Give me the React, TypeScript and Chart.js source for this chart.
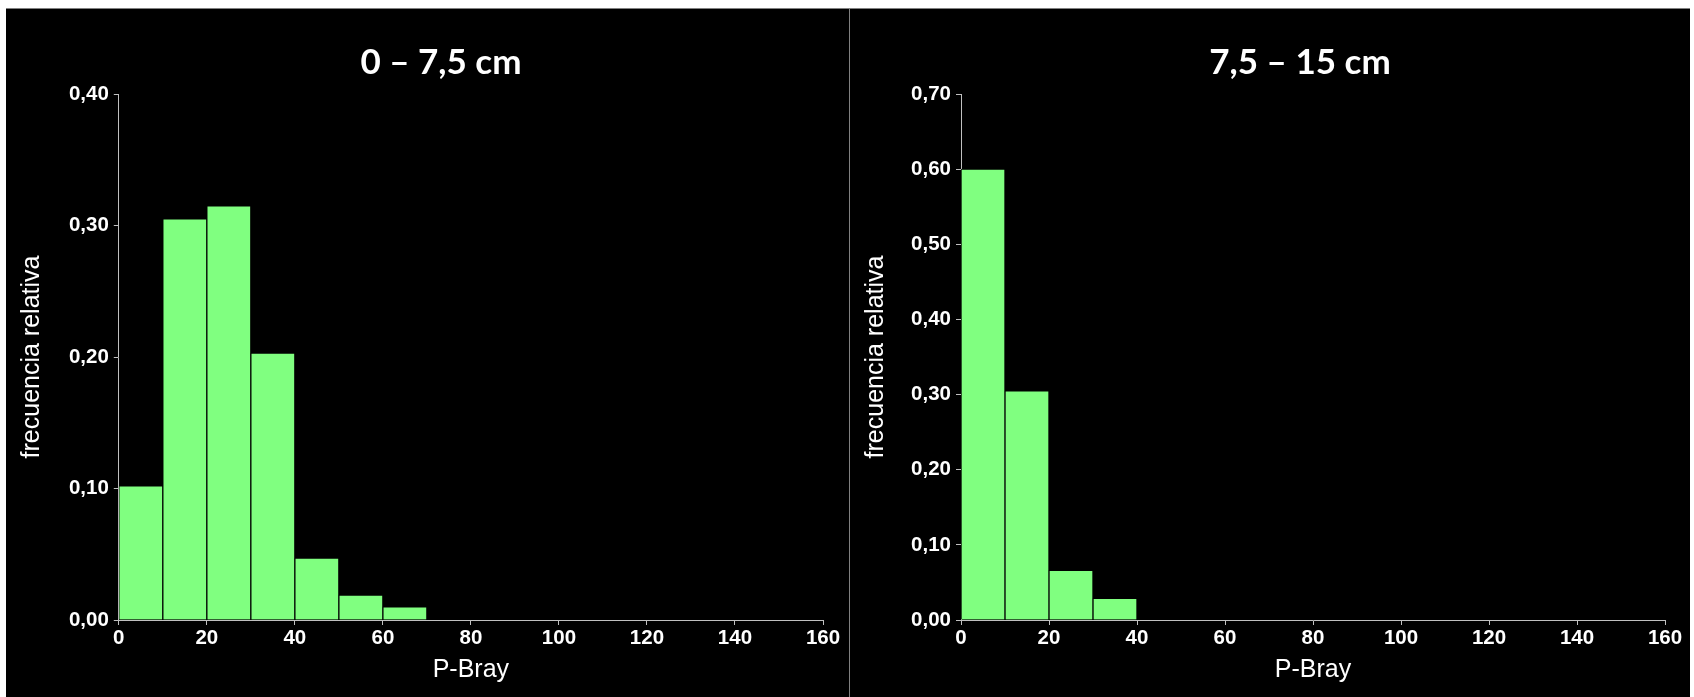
import React, { useEffect, useRef } from "react";
import { Chart, registerables } from "chart.js";

Chart.register(...registerables);

// ---- data ----
const binWidth = 10;
const binStartsTop = [0, 10, 20, 30, 40, 50, 60];
const freqTop = [0.102, 0.305, 0.315, 0.203, 0.047, 0.019, 0.01];
const binStartsDeep = [0, 10, 20, 30];
const freqDeep = [0.6, 0.305, 0.066, 0.029];
const xMin = 0;
const xMax = 160;
const xStep = 20;
const yStep = 0.1;
const yMaxTop = 0.4;
const yMaxDeep = 0.7;
const titleTop = "0 – 7,5 cm";
const titleDeep = "7,5 – 15 cm";
const xAxisTitle = "P-Bray";
const yAxisTitle = "frecuencia relativa";

const AXIS_COLOR = "#c0c0c0";
const BAR_COLOR = "#80ff80";
const TICK_FONT = { family: "'Liberation Sans', Arial, sans-serif", size: 20.5, weight: "bold" as const };
const AXIS_TITLE_FONT = { family: "'Liberation Sans', Arial, sans-serif", size: 25, weight: "normal" as const };
const TITLE_FONT = { family: "Lato, 'Noto Sans', sans-serif", size: 35, weight: "bold" as const };

type PanelProps = {
  title: string;
  starts: number[];
  values: number[];
  yMax: number;
  width: number;
  height: number;
  padLeft: number;
  yWidth: number;
  xPadRight: number;
  yTitlePad: number;
};

function Panel(p: PanelProps) {
  const ref = useRef<HTMLCanvasElement | null>(null);
  useEffect(() => {
    if (!ref.current) return;
    const chart = new Chart(ref.current, {
      type: "bar",
      data: {
        datasets: [
          {
            data: p.starts.map((s, i) => ({ x: s + binWidth / 2, y: p.values[i] })),
            backgroundColor: BAR_COLOR,
            borderColor: "#000000",
            borderWidth: 1,
            borderSkipped: "bottom",
            categoryPercentage: 1,
            barPercentage: 1,
          } as any,
        ],
      },
      options: {
        animation: false,
        responsive: false,
        devicePixelRatio: 1,
        layout: { padding: { left: p.padLeft, right: 0, top: 0, bottom: 0 } },
        plugins: {
          legend: { display: false },
          tooltip: { enabled: false },
          title: {
            display: true,
            text: p.title,
            color: "#ffffff",
            font: TITLE_FONT,
            padding: { top: 33, bottom: 10 },
          },
        },
        scales: {
          x: {
            type: "linear",
            min: xMin,
            max: xMax,
            offset: false,
            ticks: {
              stepSize: xStep,
              color: "#ffffff",
              font: TICK_FONT,
              padding: 1,
              maxRotation: 0,
              autoSkip: false,
            },
            grid: {
              display: true,
              drawOnChartArea: false,
              drawTicks: true,
              tickLength: 5,
              color: AXIS_COLOR,
              offset: false,
            },
            border: { display: true, color: AXIS_COLOR, width: 1 },
            title: {
              display: true,
              text: xAxisTitle,
              color: "#ffffff",
              font: AXIS_TITLE_FONT,
              padding: { top: 0, bottom: 12 },
            },
            afterFit: (s: any) => {
              s.height = 77;
              s.paddingRight = p.xPadRight;
            },
          } as any,
          y: {
            type: "linear",
            min: 0,
            max: p.yMax,
            ticks: {
              stepSize: yStep,
              color: "#ffffff",
              font: TICK_FONT,
              padding: 5,
              callback: (v: any) => Number(v).toFixed(2).replace(".", ","),
            },
            grid: {
              display: true,
              drawOnChartArea: false,
              drawTicks: true,
              tickLength: 5,
              color: AXIS_COLOR,
            },
            border: { display: true, color: AXIS_COLOR, width: 1 },
            title: {
              display: true,
              text: yAxisTitle,
              color: "#ffffff",
              font: AXIS_TITLE_FONT,
              padding: { top: p.yTitlePad, bottom: 0 },
            },
            afterFit: (s: any) => {
              s.width = p.yWidth;
            },
          } as any,
        },
      },
    });
    return () => chart.destroy();
  }, []);
  return <canvas ref={ref} width={p.width} height={p.height} style={{ display: "block" }} />;
}

export default function App() {
  return (
    <div
      style={{
        position: "absolute",
        left: 6,
        top: 8,
        width: 1684,
        height: 689,
        background: "#000",
        borderTop: "1px solid #808080",
        boxSizing: "border-box",
      }}
    >
      <div style={{ position: "absolute", left: 0, top: 0 }}>
        <Panel
          title={titleTop}
          starts={binStartsTop}
          values={freqTop}
          yMax={yMaxTop}
          width={843}
          height={688}
          padLeft={27}
          yWidth={85.8}
          xPadRight={26}
          yTitlePad={-16}
        />
      </div>
      <div
        style={{
          position: "absolute",
          left: 843,
          top: 0,
          width: 1,
          height: 688,
          background: "#808080",
        }}
      />
      <div style={{ position: "absolute", left: 844, top: 0 }}>
        <Panel
          title={titleDeep}
          starts={binStartsDeep}
          values={freqDeep}
          yMax={yMaxDeep}
          width={840}
          height={688}
          padLeft={60}
          yWidth={51}
          xPadRight={25}
          yTitlePad={-49}
        />
      </div>
    </div>
  );
}
